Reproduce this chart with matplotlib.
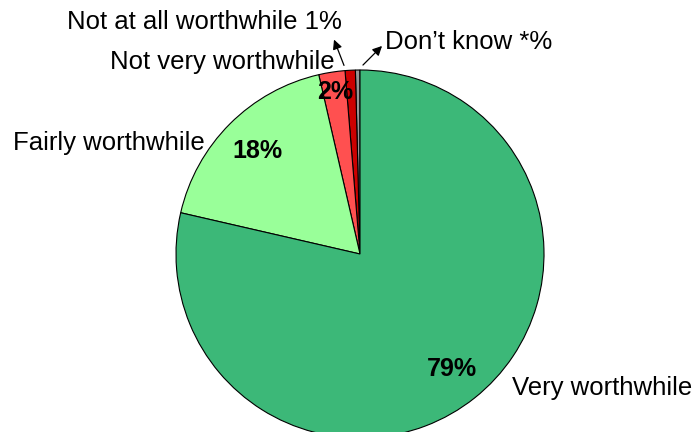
import matplotlib.pyplot as plt
import numpy as np

plt.rcParams['font.family'] = ['Liberation Sans', 'DejaVu Sans']

# Shares, ordered counter-clockwise from 12 o'clock
categories = ["Don\u2019t know", "Not at all worthwhile", "Not very worthwhile",
              "Fairly worthwhile", "Very worthwhile"]
shares = [0.4, 0.9, 2.3, 17.8, 78.6]
pct_labels = ["", "", "2%", "18%", "79%"]
colors = ['#969696', '#CC0000', '#FF5050', '#99FF99', '#3CB878']

fig = plt.figure(figsize=(6.96, 4.32), dpi=100)
ax = fig.add_axes([0, 0, 1, 1])

wedges, _ = ax.pie(shares, colors=colors, startangle=90, counterclock=True,
                   wedgeprops=dict(edgecolor='black', linewidth=0.8))

# figure is mapped so one data unit = pie radius (184 px), center at (360, 254) px
r_px = 184.0
cx, cy = 360, 254
ax.set_xlim(-cx / r_px, (696 - cx) / r_px)
ax.set_ylim(-(432 - cy) / r_px, cy / r_px)
ax.set_aspect('auto')
ax.axis('off')


def px(x, y):
    # pixel position in the picture -> data coords
    return (x - cx) / r_px, (cy - y) / r_px


# percentage labels inside the slices
dist = [0, 0, 0.89, 0.79, 0.80]
for w, lab, d in zip(wedges, pct_labels, dist):
    if not lab:
        continue
    ang = np.deg2rad((w.theta1 + w.theta2) / 2)
    ax.text(d * np.cos(ang), d * np.sin(ang), lab, ha='center', va='center',
            fontsize=18, fontweight='bold')

fs = 18.5
ax.text(*px(602, 388), "Very worthwhile", ha='center', va='center', fontsize=fs)
ax.text(*px(109, 143), "Fairly worthwhile", ha='center', va='center', fontsize=fs)
ax.text(*px(222, 62), "Not very worthwhile", ha='center', va='center', fontsize=fs)

arrow = dict(arrowstyle='-|>', color='black', lw=0.9, mutation_scale=14)
ax.annotate("", xy=px(333, 37), xytext=px(345, 68), arrowprops=arrow)
ax.text(*px(204, 22), "Not at all worthwhile 1%", ha='center', va='center', fontsize=fs)
ax.annotate("", xy=px(384, 44), xytext=px(361, 67), arrowprops=arrow)
ax.text(*px(469, 42), "Don\u2019t know *%", ha='center', va='center', fontsize=fs)

fig.savefig('out.png', dpi=100)
